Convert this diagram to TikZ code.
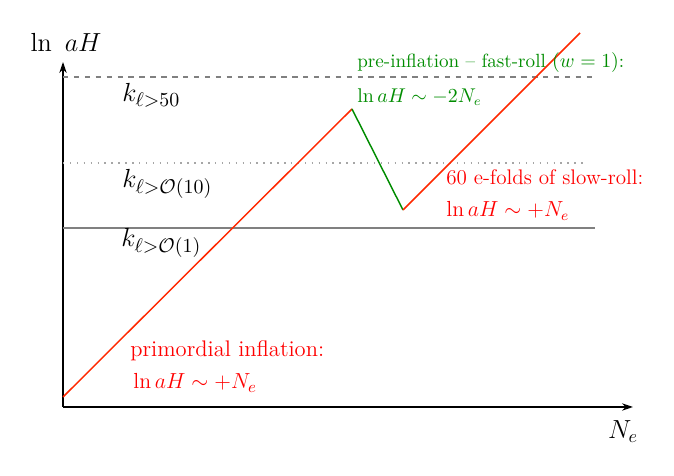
\documentclass[tikz,border=0pt]{standalone}
\usetikzlibrary{arrows.meta}
\definecolor{lred}{RGB}{255,40,0}
\definecolor{tred}{RGB}{255,0,0}
\definecolor{lgreen}{RGB}{0,140,0}
\begin{document}
\begin{tikzpicture}[x=0.55pt,y=-0.55pt,
  axis/.style={thick,-{Stealth[length=6pt,width=4pt]}},
  ref/.style={gray,thick},
  lbl/.style={inner sep=0pt,anchor=base west},
  klbl/.style={lbl,font=\fontsize{15.6}{18}\selectfont},
  gtxt/.style={lbl,text=lgreen,font=\fontsize{10.5}{12}\selectfont},
  rtxt/.style={lbl,text=tred,font=\fontsize{11.6}{14}\selectfont},
  ptxt/.style={lbl,text=tred,font=\fontsize{12.4}{15}\selectfont}]
\useasboundingbox (0,0) rectangle (674,476);
\coordinate (O) at (63,407);
\coordinate (Ytop) at (63,62);
\coordinate (Xend) at (633,407);
\draw[axis] (O) -- (Ytop);
\draw[axis] (O) -- (Xend);
\node (ylab) at (66,42) {\Large $\ln\ aH$};
\node (xlab) at (623,432) {\Large $N_e$};
% horizontal reference lines
\coordinate (d1a) at (63,77); \coordinate (d1b) at (595,77);
\coordinate (d2a) at (63,163); \coordinate (d2b) at (585,163);
\coordinate (d3a) at (63,228); \coordinate (d3b) at (595,228);
\draw[ref,dashed] (d1a) -- (d1b);
\draw[ref,gray!70,dash pattern=on 0.8pt off 3pt] (d2a) -- (d2b);
\draw[ref] (d3a) -- (d3b);
\node[klbl] (k1) at (122,102) {$k_{\ell>50}$};
\node[klbl] (k2) at (122,188) {$k_{\ell>\mathcal{O}(10)}$};
\node[klbl] (k3) at (121,247) {$k_{\ell>\mathcal{O}(1)}$};
% curve
\coordinate (p0) at (63,397);
\coordinate (p1) at (352,109);
\coordinate (p2) at (403,210);
\coordinate (p3) at (580,33);
\draw[lred,thick] (p0) -- (p1);
\draw[lgreen,thick] (p1) -- (p2);
\draw[lred,thick] (p2) -- (p3);
% texts
\node[gtxt] (g1) at (357,68) {pre-inflation -- fast-roll $(w=1)$:};
\node[gtxt] (g2) at (357,103) {$\ln aH\sim -2N_e$};
\node[rtxt] (s1) at (446,185) {60 e-folds of slow-roll:};
\node[rtxt] (s2) at (446,217) {$\ln aH\sim +N_e$};
\node[ptxt] (q1) at (130,357) {primordial inflation:};
\node[ptxt] (q2) at (133,389) {$\ln aH\sim +N_e$};
\end{tikzpicture}
\end{document}
